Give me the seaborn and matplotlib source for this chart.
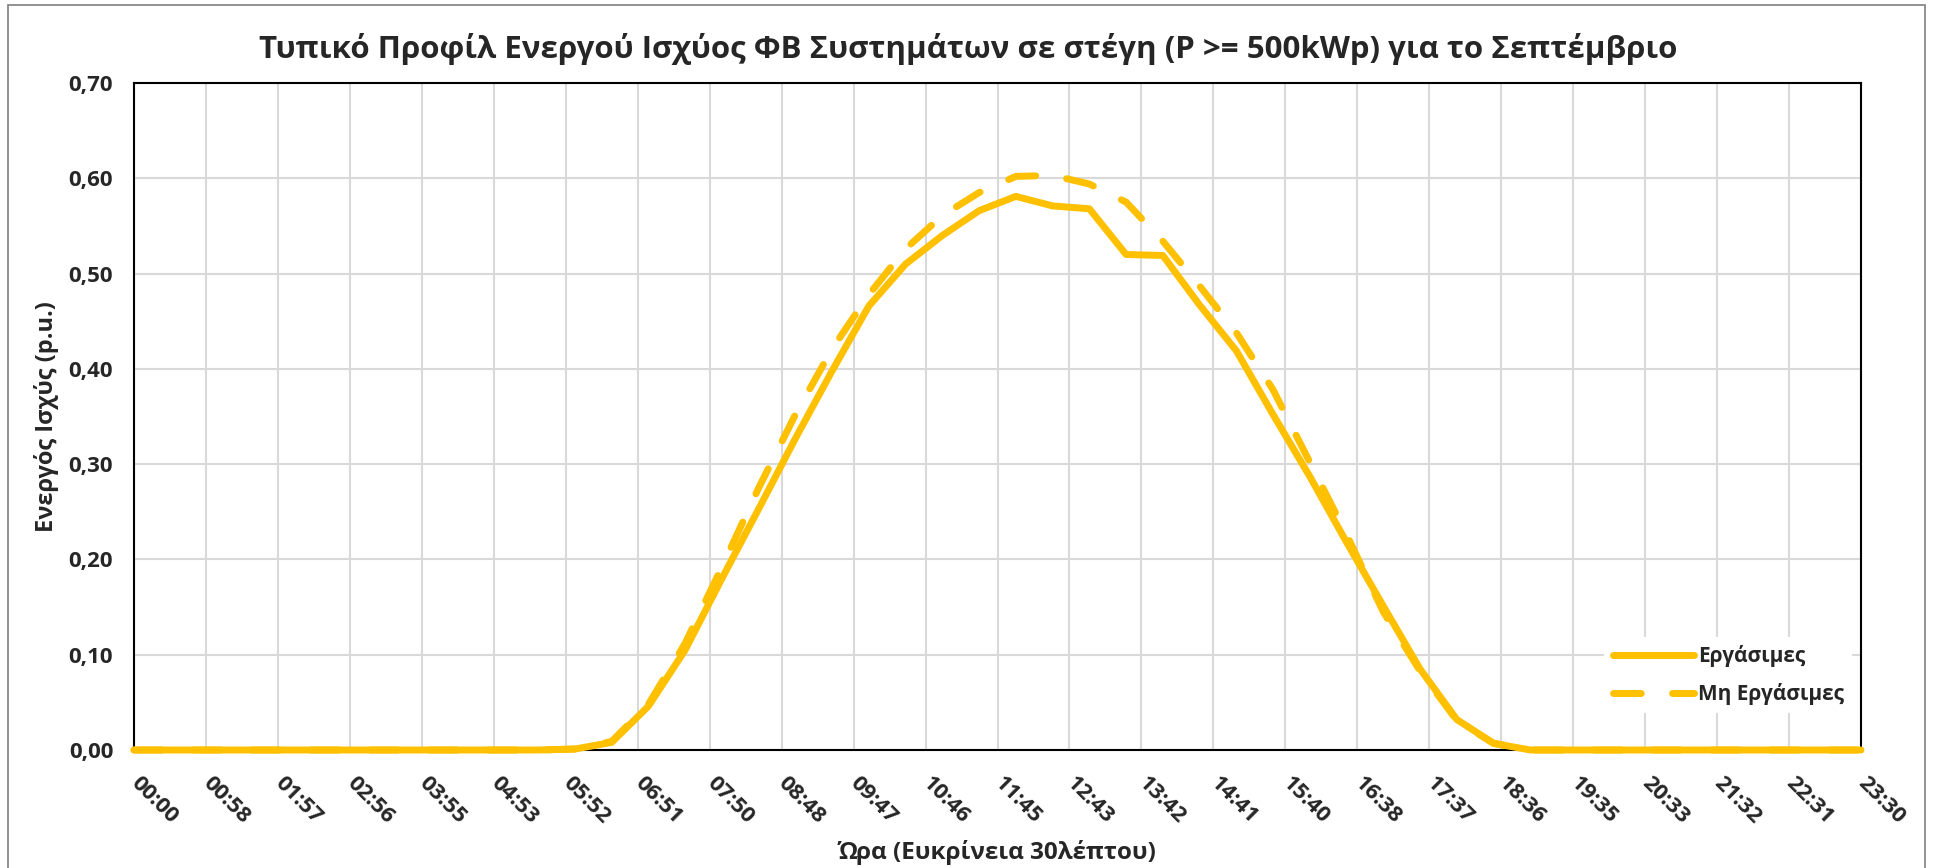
import numpy as np
import pandas as pd
import matplotlib
matplotlib.use("Agg")
import matplotlib.pyplot as plt
from matplotlib.patches import Rectangle
import seaborn as sns

# Half-hour slots of the day, in minutes after midnight (00:00 .. 23:30)
slot_minutes = np.arange(0, 1440, 30)

# Typical active-power profile (p.u.) of rooftop PV systems, September
workdays = [0, 0, 0, 0, 0, 0, 0, 0, 0, 0, 0, 0,
            0.001, 0.008, 0.046, 0.105, 0.180, 0.253, 0.327, 0.398, 0.466, 0.510, 0.540, 0.566,
            0.581, 0.571, 0.568, 0.520, 0.519, 0.467, 0.419, 0.352, 0.287, 0.218, 0.151, 0.085,
            0.032, 0.007, 0, 0, 0, 0, 0, 0, 0, 0, 0, 0]
non_workdays = [0, 0, 0, 0, 0, 0, 0, 0, 0, 0, 0, 0,
                0.001, 0.009, 0.048, 0.112, 0.192, 0.275, 0.352, 0.421, 0.478, 0.526, 0.561, 0.585,
                0.602, 0.603, 0.594, 0.575, 0.534, 0.487, 0.438, 0.378, 0.302, 0.226, 0.145, 0.083,
                0.031, 0.007, 0, 0, 0, 0, 0, 0, 0, 0, 0, 0]

series_names = ["Εργάσιμες", "Μη Εργάσιμες"]
time_labels = ["00:00", "00:58", "01:57", "02:56", "03:55", "04:53", "05:52", "06:51",
               "07:50", "08:48", "09:47", "10:46", "11:45", "12:43", "13:42", "14:41",
               "15:40", "16:38", "17:37", "18:36", "19:35", "20:33", "21:32", "22:31", "23:30"]
y_ticks = [0.0, 0.1, 0.2, 0.3, 0.4, 0.5, 0.6, 0.7]
y_labels = ["0,00", "0,10", "0,20", "0,30", "0,40", "0,50", "0,60", "0,70"]

title = "Τυπικό Προφίλ Ενεργού Ισχύος ΦΒ Συστημάτων σε στέγη (P >= 500kWp) για το Σεπτέμβριο"
x_title = "Ώρα (Ευκρίνεια 30λέπτου)"
y_title = "Ενεργός Ισχύς (p.u.)"

GOLD = "#FFC000"

sns.set_style("white")
plt.rcParams["font.family"] = ["Open Sans", "DejaVu Sans"]
plt.rcParams["font.weight"] = "bold"

W, H = 1936, 868
fig = plt.figure(figsize=(W / 100, H / 100), dpi=100)
ax = fig.add_axes([134 / W, (H - 750) / H, 1727 / W, 667 / H])

# thin outer chart frame (open at the bottom edge of the canvas)
fig.add_artist(Rectangle((8 / W, -0.05), (1925 - 8) / W, (H - 5) / H + 0.05,
                         transform=fig.transFigure, fill=False,
                         edgecolor="#7f7f7f", linewidth=1.2, clip_on=False))

df = pd.DataFrame({"minute": slot_minutes,
                   "work": workdays,
                   "nonwork": non_workdays})

lw = 5.0
sns.lineplot(data=df, x="minute", y="work", ax=ax, color=GOLD, linewidth=lw,
             label=series_names[0], solid_capstyle="round", solid_joinstyle="round",
             clip_on=False, zorder=5)
sns.lineplot(data=df, x="minute", y="nonwork", ax=ax, color=GOLD, linewidth=lw,
             linestyle=(0, (4, 4.5)), dash_capstyle="round", dash_joinstyle="round",
             label=series_names[1], clip_on=False, zorder=6)

ax.set_xlim(0, 1410)
ax.set_ylim(0, 0.7)
ax.set_xticks(np.linspace(0, 1410, len(time_labels)))
ax.set_xticklabels(time_labels, rotation=-45, ha="left", va="center",
                   rotation_mode="anchor", fontsize=16, fontweight="bold")
ax.set_yticks(y_ticks)
ax.set_yticklabels(y_labels, fontsize=16, fontweight="bold")
ax.tick_params(axis="x", length=0, pad=22)
ax.tick_params(axis="y", length=0, pad=15)

ax.grid(True, color="#d9d9d9", linewidth=1.5)
ax.set_axisbelow(True)
for side in ["left", "right", "top", "bottom"]:
    ax.spines[side].set_visible(True)
    ax.spines[side].set_color("black")
    ax.spines[side].set_linewidth(1.5)

ax.set_xlabel(x_title, fontsize=17.5, fontweight="bold", va="center")
ax.xaxis.set_label_coords(0.5, -0.153)
ax.set_ylabel(y_title, fontsize=17, fontweight="bold", va="center")
ax.yaxis.set_label_coords(-0.0504, 0.5)

fig.text(0.5, 1 - 49 / H, title, ha="center", va="center",
         fontsize=22.5, fontweight="bold")

leg = ax.legend(loc="lower right", bbox_to_anchor=(0.995, 0.055), fontsize=15,
                handlelength=3.9, handletextpad=0.2, labelspacing=0.75,
                borderpad=0.4, borderaxespad=0, frameon=True, fancybox=False)
leg.get_frame().set_facecolor("white")
leg.get_frame().set_edgecolor("none")
leg.get_frame().set_alpha(1)
for t in leg.get_texts():
    t.set_fontweight("bold")

fig.savefig("out.png", dpi=100)
